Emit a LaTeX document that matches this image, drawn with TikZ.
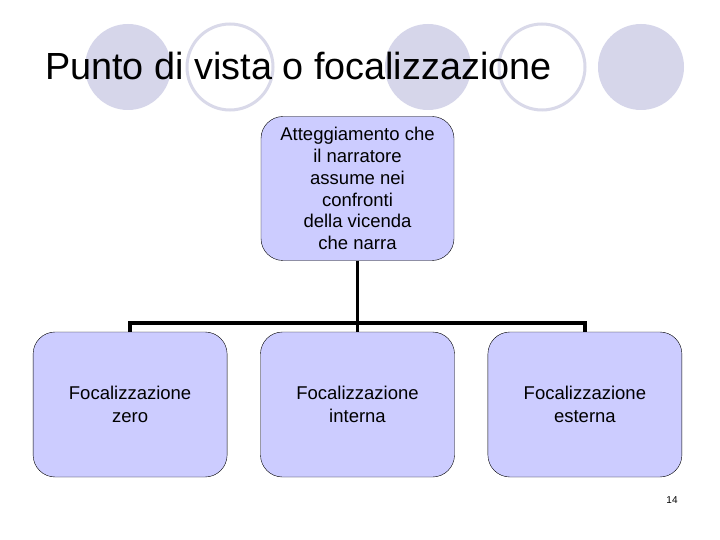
\documentclass[tikz,border=0pt]{standalone}
\usepackage{fontspec}
\setmainfont{Liberation Sans}
\usetikzlibrary{positioning}
\definecolor{dotFill}{HTML}{D6D6EA}
\definecolor{dotRing}{HTML}{D9D9E9}
\definecolor{boxFill}{HTML}{CCCCFF}

\begin{document}
\begin{tikzpicture}[x=1pt,y=-1pt,node distance=33pt,
    every node/.style={font=\fontsize{18.5}{21.8}\selectfont}]
      \tikzstyle{topic}=[draw=black,fill=boxFill,rounded corners=22pt,
                         minimum height=144pt,minimum width=193pt,align=center,
                         inner sep=0pt,thin]
      \tikzstyle{kind}=[topic,minimum height=145pt,minimum width=194pt,
                        font=\fontsize{18.5}{23}\selectfont]
      \tikzstyle{tree}=[line width=3.5pt]
      \useasboundingbox[fill=white] (0,0) rectangle (720,540);
      % template circles
      \fill[dotFill] (128,67) circle (43);
      \draw[dotRing,line width=3pt] (230,67) circle (43);
      \fill[dotFill] (428,67) circle (43);
      \draw[dotRing,line width=3pt] (542,67) circle (43);
      \fill[dotFill] (641,67) circle (43);
      \node[anchor=base west,inner sep=0pt,font=\fontsize{37.8}{44}\selectfont]
        (title) at (45,80) {Punto di vista o focalizzazione};
      % chart
      \node[topic] (view) at (357.5,188.5) {Atteggiamento che\\il narratore\\assume nei\\confronti\\della vicenda\\che narra};
      \node[kind] (interna) at (357.5,404.5) {Focalizzazione\\interna};
      \node[kind,left=of interna] (zero) {Focalizzazione\\zero};
      \node[kind,right=of interna] (esterna) {Focalizzazione\\esterna};
      \coordinate (bus) at (357.5,323);
      \draw[tree] (view.south) -- (interna.north);
      \draw[tree] (zero.north) |- (bus);
      \draw[tree] (esterna.north) |- (bus);
      \node[font=\fontsize{10}{12}\selectfont] (page) at (672,500) {14};
    \end{tikzpicture}
\end{document}
